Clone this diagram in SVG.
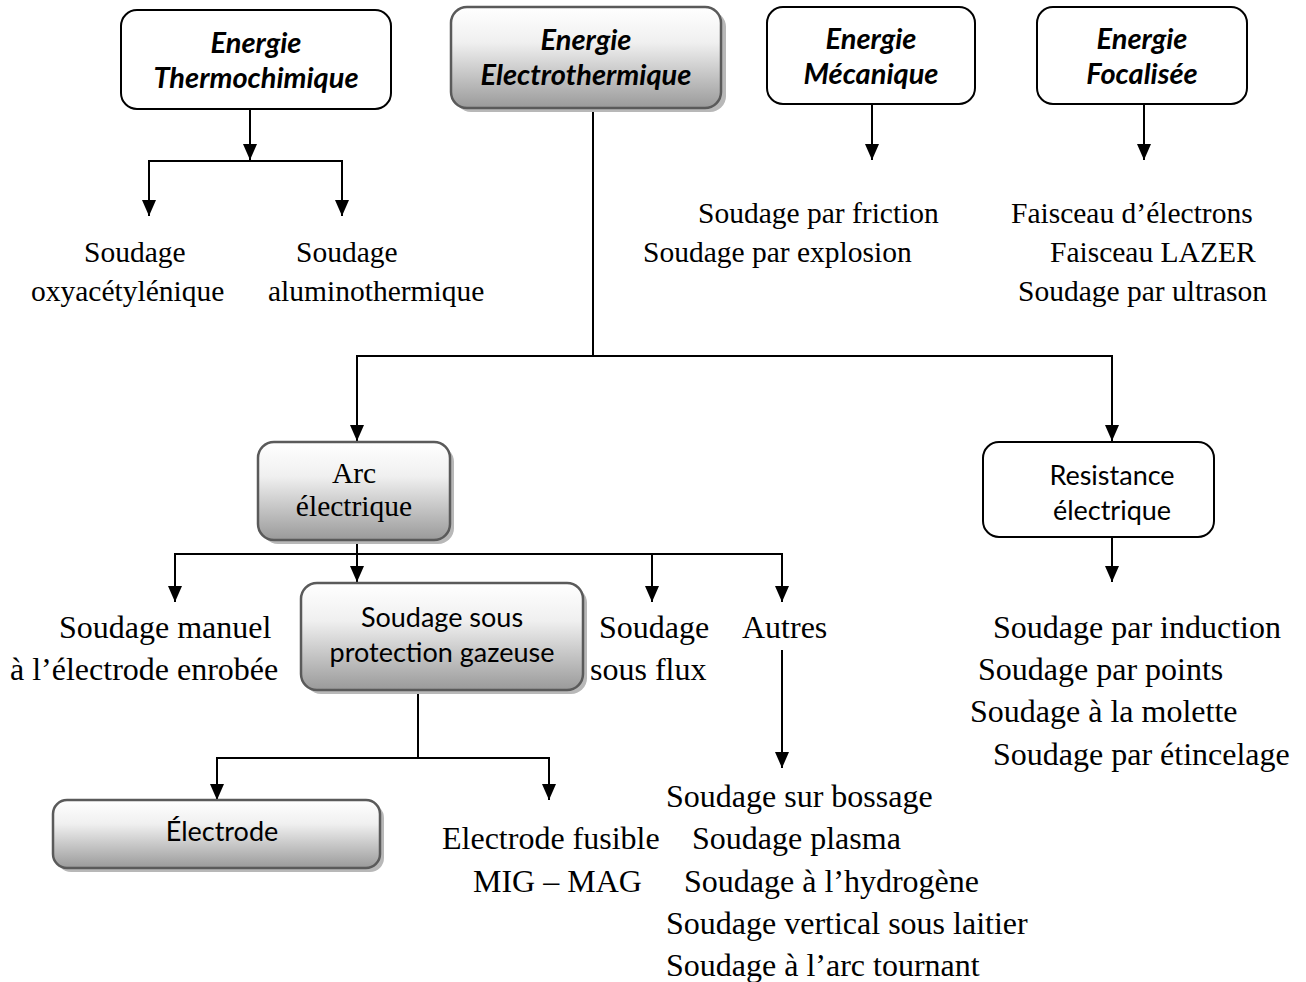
<svg xmlns="http://www.w3.org/2000/svg" width="1306" height="982" viewBox="0 0 1306 982">
<defs>
<linearGradient id="g" x1="0" y1="0" x2="0" y2="1">
<stop offset="0" stop-color="#ffffff"/>
<stop offset="0.35" stop-color="#f0f0f0"/>
<stop offset="1" stop-color="#9a9a9a"/>
</linearGradient>
<marker id="a" viewBox="0 0 16 14" markerWidth="16" markerHeight="14" refX="16" refY="7" orient="auto" markerUnits="userSpaceOnUse">
<path d="M0,0 L16,7 L0,14 z" fill="#000"/>
</marker>
<style>
.wb{fill:#fff;stroke:#000;stroke-width:2}
.gb{fill:url(#g);stroke:#5a5a5a;stroke-width:2.5}
.sh{fill:#b8b8b8}
.ti{font-family:Lato,"Liberation Sans",sans-serif;font-weight:bold;font-style:italic;font-size:29px;fill:#000;text-anchor:middle}
.ca{font-family:Lato,"Liberation Sans",sans-serif;font-size:27px;fill:#000;text-anchor:middle}
.tm{font-family:"Liberation Serif","Times New Roman",serif;font-size:32px;fill:#000}
.ts{font-family:"Liberation Serif","Times New Roman",serif;font-size:29.5px;fill:#000}
.c{fill:none;stroke:#000;stroke-width:2}
</style>
</defs>
<rect width="1306" height="982" fill="#fff"/>

<g id="connectors">
<path class="c" d="M250,109 V160" marker-end="url(#a)"/>
<path class="c" d="M250,161 H149 V216" marker-end="url(#a)"/>
<path class="c" d="M250,161 H342 V216" marker-end="url(#a)"/>
<path class="c" d="M593,108 V356 H357 V441" marker-end="url(#a)"/>
<path class="c" d="M593,356 H1112 V441" marker-end="url(#a)"/>
<path class="c" d="M872,104 V160" marker-end="url(#a)"/>
<path class="c" d="M1144,104 V160" marker-end="url(#a)"/>
<path class="c" d="M1112,537 V582" marker-end="url(#a)"/>
<path class="c" d="M357,540 V582" marker-end="url(#a)"/>
<path class="c" d="M357,554 H175 V602" marker-end="url(#a)"/>
<path class="c" d="M357,554 H652 V602" marker-end="url(#a)"/>
<path class="c" d="M652,554 H782 V602" marker-end="url(#a)"/>
<path class="c" d="M782,650 V768" marker-end="url(#a)"/>
<path class="c" d="M418,690 V758 H217 V800" marker-end="url(#a)"/>
<path class="c" d="M418,758 H549 V800" marker-end="url(#a)"/>
</g>

<g id="thermochimique">
<rect class="wb" x="121" y="10" width="270" height="99" rx="16"/>
<text class="ti" x="256" y="53">Energie</text>
<text class="ti" x="256" y="88">Thermochimique</text>
</g>

<g id="electrothermique">
<rect class="sh" x="455" y="11" width="271" height="101" rx="16"/>
<rect class="gb" x="451" y="7" width="270" height="101" rx="16"/>
<text class="ti" x="586" y="50">Energie</text>
<text class="ti" x="586" y="85">Electrothermique</text>
</g>

<g id="mecanique">
<rect class="wb" x="767" y="7" width="208" height="97" rx="16"/>
<text class="ti" x="871" y="49">Energie</text>
<text class="ti" x="871" y="84">Mécanique</text>
</g>

<g id="focalisee">
<rect class="wb" x="1037" y="7" width="210" height="97" rx="16"/>
<text class="ti" x="1142" y="49">Energie</text>
<text class="ti" x="1142" y="84">Focalisée</text>
</g>

<g id="thermo-items">
<text class="ts" x="84" y="262">Soudage</text>
<text class="ts" x="31" y="301">oxyacétylénique</text>
<text class="ts" x="296" y="262">Soudage</text>
<text class="ts" x="268" y="301">aluminothermique</text>
</g>

<g id="meca-items">
<text class="ts" x="698" y="223">Soudage par friction</text>
<text class="ts" x="643" y="262">Soudage par explosion</text>
</g>

<g id="focal-items">
<text class="ts" x="1011" y="223">Faisceau d’électrons</text>
<text class="ts" x="1050" y="262">Faisceau LAZER</text>
<text class="ts" x="1018" y="301">Soudage par ultrason</text>
</g>

<g id="arc">
<rect class="sh" x="262" y="446" width="192" height="98" rx="16"/>
<rect class="gb" x="258" y="442" width="192" height="98" rx="16"/>
<text class="ts" x="354" y="483" text-anchor="middle">Arc</text>
<text class="ts" x="354" y="516" text-anchor="middle">électrique</text>
</g>

<g id="resistance">
<rect class="wb" x="983" y="442" width="231" height="95" rx="16"/>
<text class="ca" x="1112" y="485">Resistance</text>
<text class="ca" x="1112" y="520">électrique</text>
</g>

<g id="resistance-items">
<text class="tm" x="993" y="638">Soudage par induction</text>
<text class="tm" x="978" y="680">Soudage par points</text>
<text class="tm" x="970" y="722">Soudage à la molette</text>
<text class="tm" x="993" y="765">Soudage par étincelage</text>
</g>

<g id="manuel">
<text class="tm" x="59" y="638">Soudage manuel</text>
<text class="tm" x="10" y="680">à l’électrode enrobée</text>
</g>

<g id="gazeuse">
<rect class="sh" x="305" y="587" width="282" height="107" rx="16"/>
<rect class="gb" x="301" y="583" width="282" height="107" rx="16"/>
<text class="ca" x="442" y="627">Soudage sous</text>
<text class="ca" x="442" y="662">protection gazeuse</text>
</g>

<g id="sousflux">
<text class="tm" x="599" y="638">Soudage</text>
<text class="tm" x="590" y="680">sous flux</text>
</g>

<g id="autres">
<text class="tm" x="742" y="638">Autres</text>
</g>

<g id="autres-items">
<text class="tm" x="666" y="807">Soudage sur bossage</text>
<text class="tm" x="692" y="849">Soudage plasma</text>
<text class="tm" x="684" y="892">Soudage à l’hydrogène</text>
<text class="tm" x="666" y="934">Soudage vertical sous laitier</text>
<text class="tm" x="666" y="976">Soudage à l’arc tournant</text>
</g>

<g id="electrode">
<rect class="sh" x="57" y="804" width="327" height="68" rx="14"/>
<rect class="gb" x="53" y="800" width="327" height="68" rx="14"/>
<text class="ca" x="222" y="841">Électrode</text>
</g>

<g id="fusible">
<text class="tm" x="442" y="849">Electrode fusible</text>
<text class="tm" x="473" y="892">MIG – MAG</text>
</g>
</svg>
